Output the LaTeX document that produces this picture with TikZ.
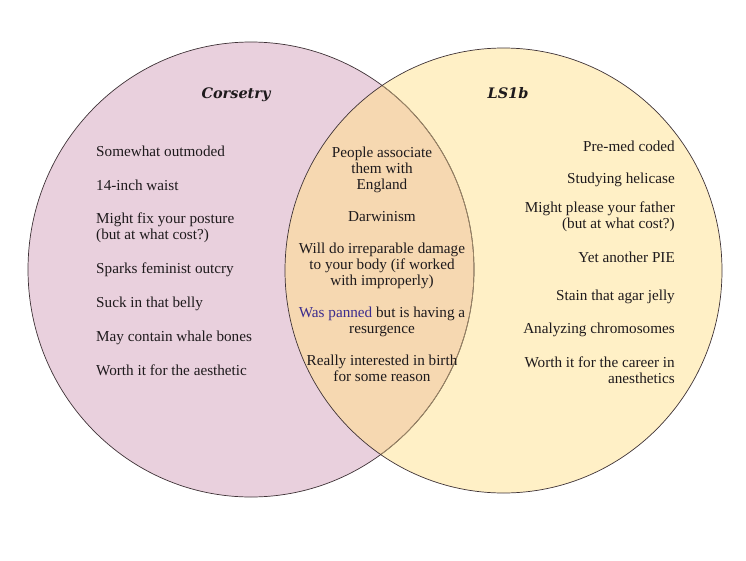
\documentclass[tikz,border=0pt]{standalone}
\usepackage{fontspec}
\setmainfont{Liberation Serif}
\newfontfamily\headfont{DejaVu Serif}
\usetikzlibrary{positioning}
\definecolor{corsetpink}{HTML}{E9D0DD}
\definecolor{lsyellow}{HTML}{FFF0C6}
\definecolor{bothtan}{HTML}{F6D8B1}
\definecolor{rimdark}{HTML}{3E3236}
\definecolor{rimlight}{HTML}{A08A66}
\definecolor{inkdark}{HTML}{1E1A1C}
\definecolor{pannedblue}{HTML}{3B2C8E}
\newcommand{\corsetset}{(251,269.5) ellipse [x radius=223pt, y radius=227.5pt]}
\newcommand{\lsset}{(503.5,270.5) ellipse [x radius=218.5pt, y radius=222.5pt]}

\begin{document}
\begin{tikzpicture}[
    x=1pt, y=-1pt,
    node distance=17.5pt,
    rim/.style={draw=rimdark, line width=0.7pt},
    head/.style={font=\headfont\bfseries\itshape\fontsize{14.5}{17}\selectfont, text=inkdark, inner sep=0pt},
    item/.style={font=\fontsize{15.2}{16}\selectfont, text=inkdark, inner sep=0pt,
      execute at begin node=\strut, execute at end node=\strut},
    leftitem/.style={item, align=left},
    miditem/.style={item, align=center},
    rightitem/.style={item, align=right}
  ]
    \useasboundingbox (0,0) rectangle (746,560);
    % the two sets
    \fill[corsetpink] \corsetset;
    \fill[lsyellow] \lsset;
    \begin{scope}
      \clip \corsetset;
      \fill[bothtan] \lsset;
    \end{scope}
    \draw[rim] \corsetset;
    \begin{scope}
      \clip \lsset;
      \draw[rim, draw=rimlight] \corsetset;
    \end{scope}
    \draw[rim] \lsset;

    \node[head, anchor=base] (corsetry) at (236,98) {Corsetry};
    \node[head, anchor=base] (ls1b) at (508,98) {LS1b};

    % corsetry only
    \node[leftitem, anchor=north west] (c1) at (96,144.8) {Somewhat outmoded};
    \node[leftitem, below right=17.5pt and 0pt of c1.south west] (c2) {14-inch waist};
    \node[leftitem, below right=17.5pt and 0pt of c2.south west] (c3) {Might fix your posture\\(but at what cost?)};
    \node[leftitem, below right=17.5pt and 0pt of c3.south west] (c4) {Sparks feminist outcry};
    \node[leftitem, below right=17.5pt and 0pt of c4.south west] (c5) {Suck in that belly};
    \node[leftitem, below right=17.5pt and 0pt of c5.south west] (c6) {May contain whale bones};
    \node[leftitem, below right=17.5pt and 0pt of c6.south west] (c7) {Worth it for the aesthetic};

    % both
    \node[miditem, anchor=north] (b1) at (382,146.8) {People associate\\them with\\England};
    \node[miditem, below=16pt of b1] (b2) {Darwinism};
    \node[miditem, below=16pt of b2] (b3) {Will do irreparable damage\\to your body (if worked\\with improperly)};
    \node[miditem, below=16pt of b3] (b4) {\textcolor{pannedblue}{Was panned} but is having a\\resurgence};
    \node[miditem, below=16pt of b4] (b5) {Really interested in birth\\for some reason};

    % ls1b only
    \node[rightitem, anchor=north east] (r1) at (675,139.8) {Pre-med coded};
    \node[rightitem, below left=16pt and 0pt of r1.south east] (r2) {Studying helicase};
    \node[rightitem, below left=12.5pt and 0pt of r2.south east] (r3) {Might please your father\\(but at what cost?)};
    \node[rightitem, below left=18pt and 0pt of r3.south east] (r4) {Yet another PIE};
    \node[rightitem, below left=22pt and 0pt of r4.south east] (r5) {Stain that agar jelly};
    \node[rightitem, below left=16pt and 0pt of r5.south east] (r6) {Analyzing chromosomes};
    \node[rightitem, below left=18pt and 0pt of r6.south east] (r7) {Worth it for the career in\\anesthetics};
  \end{tikzpicture}
\end{document}
